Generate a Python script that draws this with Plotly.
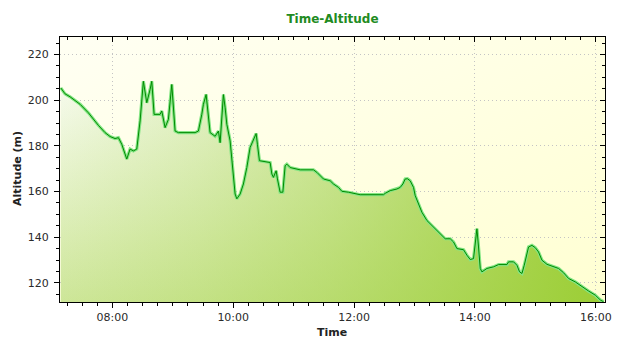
import base64
import plotly.graph_objects as go

# ---------------- data ----------------
DAY = "2012-05-20"
times = ["07:08:45", "07:13:00", "07:18:00", "07:23:00", "07:28:00", "07:36:10", "07:41:08",
         "07:46:06", "07:52:45", "07:57:43", "08:02:41", "08:06:00", "08:09:20", "08:14:18",
         "08:17:35", "08:20:52", "08:24:14", "08:27:31", "08:30:48", "08:34:10", "08:37:27",
         "08:39:08", "08:41:26", "08:47:23", "08:49:04", "08:52:21", "08:55:38", "08:59:00",
         "09:02:17", "09:05:34", "09:22:09", "09:25:26", "09:28:49", "09:30:24", "09:33:05",
         "09:35:22", "09:37:04", "09:42:01", "09:45:18", "09:46:59", "09:48:41", "09:50:16",
         "09:51:58", "09:53:39", "09:56:55", "09:58:37", "10:00:12", "10:01:53", "10:03:35",
         "10:06:52", "10:10:08", "10:13:31", "10:16:47", "10:20:04", "10:22:45", "10:24:02",
         "10:26:02", "10:36:40", "10:38:21", "10:39:56", "10:42:37", "10:43:55", "10:46:35",
         "10:49:17", "10:51:34", "10:53:15", "10:56:32", "11:06:28", "11:19:41", "11:23:03",
         "11:26:20", "11:29:37", "11:36:16", "11:39:32", "11:44:31", "11:47:53", "11:54:26",
         "12:06:04", "12:29:13", "12:30:54", "12:35:52", "12:42:32", "12:45:48", "12:48:29",
         "12:50:46", "12:53:03", "12:55:44", "12:59:01", "13:00:42", "13:03:59", "13:07:22",
         "13:12:20", "13:18:53", "13:25:32", "13:30:31", "13:35:29", "13:38:45", "13:42:08",
         "13:48:41", "13:52:04", "13:55:21", "13:58:37", "14:00:19", "14:02:00", "14:03:35",
         "14:05:17", "14:06:58", "14:11:56", "14:18:29", "14:23:28", "14:31:48", "14:33:23",
         "14:38:22", "14:41:44", "14:44:19", "14:46:42", "14:48:59", "14:51:40", "14:53:16",
         "14:56:38", "14:59:55", "15:03:11", "15:06:34", "15:11:32", "15:16:30", "15:23:04",
         "15:28:02", "15:33:00", "15:39:39", "15:46:18", "15:52:52", "15:59:31", "16:04:29",
         "16:07:46"]
altitude = [205.4, 202.8, 201.5, 199.9, 198.2, 194.5, 191.6,
            189.0, 185.8, 184.1, 183.2, 183.6, 180.7, 174.2,
            178.6, 177.8, 178.6, 190.9, 208.3, 198.9, 204.7,
            208.3, 193.8, 193.8, 195.3, 188.0, 191.6, 206.9,
            186.5, 185.8, 185.8, 186.5, 193.8, 198.2, 202.5,
            193.8, 185.8, 184.2, 186.5, 181.4, 190.9, 202.5,
            196.7, 189.5, 182.2, 173.5, 166.2, 158.9, 156.8,
            158.9, 163.3, 170.5, 179.3, 182.9, 185.4, 180.7,
            173.5, 172.7, 167.7, 166.2, 169.1, 165.5, 159.7,
            159.7, 171.3, 172.0, 170.5, 169.5, 169.5, 168.4,
            166.9, 165.5, 164.7, 163.3, 161.8, 160.1, 159.7,
            158.6, 158.6, 159.2, 160.4, 161.1, 161.8, 163.3,
            165.5, 165.6, 164.7, 161.8, 158.2, 154.6, 150.9,
            147.3, 144.4, 141.5, 139.3, 139.3, 137.9, 135.0,
            134.5, 132.1, 130.2, 130.6, 137.2, 143.7, 135.7,
            126.3, 124.8, 126.3, 127.0, 128.0, 128.0, 129.2,
            129.2, 127.7, 124.8, 124.1, 127.7, 133.5, 135.7,
            136.4, 135.4, 133.5, 129.9, 128.1, 127.3, 126.3,
            124.4, 121.9, 120.4, 118.3, 116.4, 114.6, 112.5,
            111.7]
x_tick_labels = ["08:00", "10:00", "12:00", "14:00", "16:00"]
y_tick_values = [120, 140, 160, 180, 200, 220]

# ---------------- styling ----------------
FONT = "DejaVu Sans"
X_RANGE = [DAY + " 07:08:00", DAY + " 16:09:10"]
Y_RANGE = [111.6, 227.7]
GREEN = "154,205,50"

xs = [DAY + " " + t for t in times]
x_tickvals = [DAY + " " + t for t in x_tick_labels]

svg = ('<svg xmlns="http://www.w3.org/2000/svg" width="100" height="100" '
       'viewBox="0 0 100 100" preserveAspectRatio="none"><defs>'
       '<linearGradient id="g" x1="0" y1="0" x2="1" y2="1">'
       '<stop offset="0" stop-color="#FFFFF3"/><stop offset="1" stop-color="#FFFFD2"/>'
       '</linearGradient></defs><rect width="100" height="100" fill="url(#g)"/></svg>')
bg_src = "data:image/svg+xml;base64," + base64.b64encode(svg.encode()).decode()

fig = go.Figure()

# base fill: vertical gradient (white at top -> half green at bottom)
fig.add_trace(go.Scatter(
    x=xs, y=altitude, mode="none", fill="tozeroy",
    fillgradient=dict(type="vertical", start=Y_RANGE[0], stop=Y_RANGE[1],
                      colorscale=[[0, "rgb(205,230,152)"], [1, "rgb(255,255,255)"]]),
    hoverinfo="skip", showlegend=False))
# overlay fill: horizontal green with increasing alpha -> diagonal feel
fig.add_trace(go.Scatter(
    x=xs, y=altitude, mode="none", fill="tozeroy",
    fillgradient=dict(type="horizontal",
                      colorscale=[[0, f"rgba({GREEN},0)"], [0.25, f"rgba({GREEN},0.19)"],
                                  [0.5, f"rgba({GREEN},0.42)"], [0.75, f"rgba({GREEN},0.69)"],
                                  [1, f"rgba({GREEN},0.97)"]]),
    hoverinfo="skip", showlegend=False))
# line: light green halo + dark green core
fig.add_trace(go.Scatter(x=xs, y=altitude, mode="lines",
                         line=dict(color="#84E584", width=3.2),
                         hoverinfo="skip", showlegend=False))
fig.add_trace(go.Scatter(x=xs, y=altitude, mode="lines",
                         line=dict(color="#008A00", width=1),
                         showlegend=False))
# dummy trace for the mirrored (top/right) axes
fig.add_trace(go.Scatter(x=[xs[0]], y=[altitude[0]], xaxis="x2", yaxis="y2",
                         mode="markers", marker=dict(opacity=0),
                         hoverinfo="skip", showlegend=False))

tickfont = dict(family=FONT, size=11, color="#2A2A2A")
fig.update_layout(
    width=640, height=350,
    margin=dict(l=60, r=35, t=37, b=48),
    paper_bgcolor="white", plot_bgcolor="#FFFFE6",
    font=dict(family=FONT, size=11, color="#2A2A2A"),
    showlegend=False,
    title=dict(text="<b>Time-Altitude</b>", x=0.5195, xref="container", xanchor="center",
               y=1 - 19 / 350, yref="container", yanchor="middle",
               font=dict(family=FONT, size=12, color="#228B22")),
    images=[dict(source=bg_src, xref="paper", yref="paper", x=0, y=1, sizex=1, sizey=1,
                 xanchor="left", yanchor="top", sizing="stretch", layer="below")],
    xaxis=dict(type="date", range=X_RANGE, tickmode="array", tickvals=x_tickvals,
               ticktext=x_tick_labels, ticks="outside", ticklen=5, tickcolor="black",
               tickfont=tickfont, showline=True, linecolor="black", linewidth=1,
               showgrid=True, gridcolor="#C4C4C4", gridwidth=1, griddash="1px,3px",
               zeroline=False,
               minor=dict(ticks="outside", ticklen=3, tickcolor="black",
                          dtick=900000, tick0=DAY + " 00:00", showgrid=False)),
    yaxis=dict(range=Y_RANGE, tickmode="array", tickvals=y_tick_values,
               ticks="outside", ticklen=5, tickcolor="black", tickfont=tickfont,
               showline=True, linecolor="black", linewidth=1,
               showgrid=True, gridcolor="#C4C4C4", gridwidth=1, griddash="1px,3px",
               zeroline=False, ticklabelstandoff=3,
               minor=dict(ticks="outside", ticklen=3, tickcolor="black",
                          dtick=5, tick0=0, showgrid=False)),
    xaxis2=dict(type="date", range=X_RANGE, overlaying="x", side="top", anchor="y",
                tickmode="array", tickvals=x_tickvals, ticks="inside", ticklen=5,
                tickcolor="black", showticklabels=False, showline=True,
                linecolor="black", linewidth=1, showgrid=False, zeroline=False,
                minor=dict(ticks="inside", ticklen=3, tickcolor="black",
                           dtick=900000, tick0=DAY + " 00:00", showgrid=False)),
    yaxis2=dict(range=Y_RANGE, overlaying="y", side="right", anchor="x",
                tickmode="array", tickvals=y_tick_values, ticks="inside", ticklen=5,
                tickcolor="black", showticklabels=False, showline=True,
                linecolor="black", linewidth=1, showgrid=False, zeroline=False,
                minor=dict(ticks="inside", ticklen=3, tickcolor="black",
                           dtick=5, tick0=0, showgrid=False)),
    annotations=[
        dict(text="<b>Time</b>", xref="paper", yref="paper", x=(332 - 60) / 545,
             y=-(332 - 302) / 265, xanchor="center", yanchor="middle", showarrow=False,
             font=dict(family=FONT, size=11, color="#222222")),
        dict(text="<b>Altitude (m)</b>", xref="paper", yref="paper", x=(17 - 60) / 545,
             y=(302 - 169) / 265, xanchor="center", yanchor="middle", textangle=-90,
             showarrow=False, font=dict(family=FONT, size=11, color="#222222")),
    ],
)

fig.write_html("out.html")
